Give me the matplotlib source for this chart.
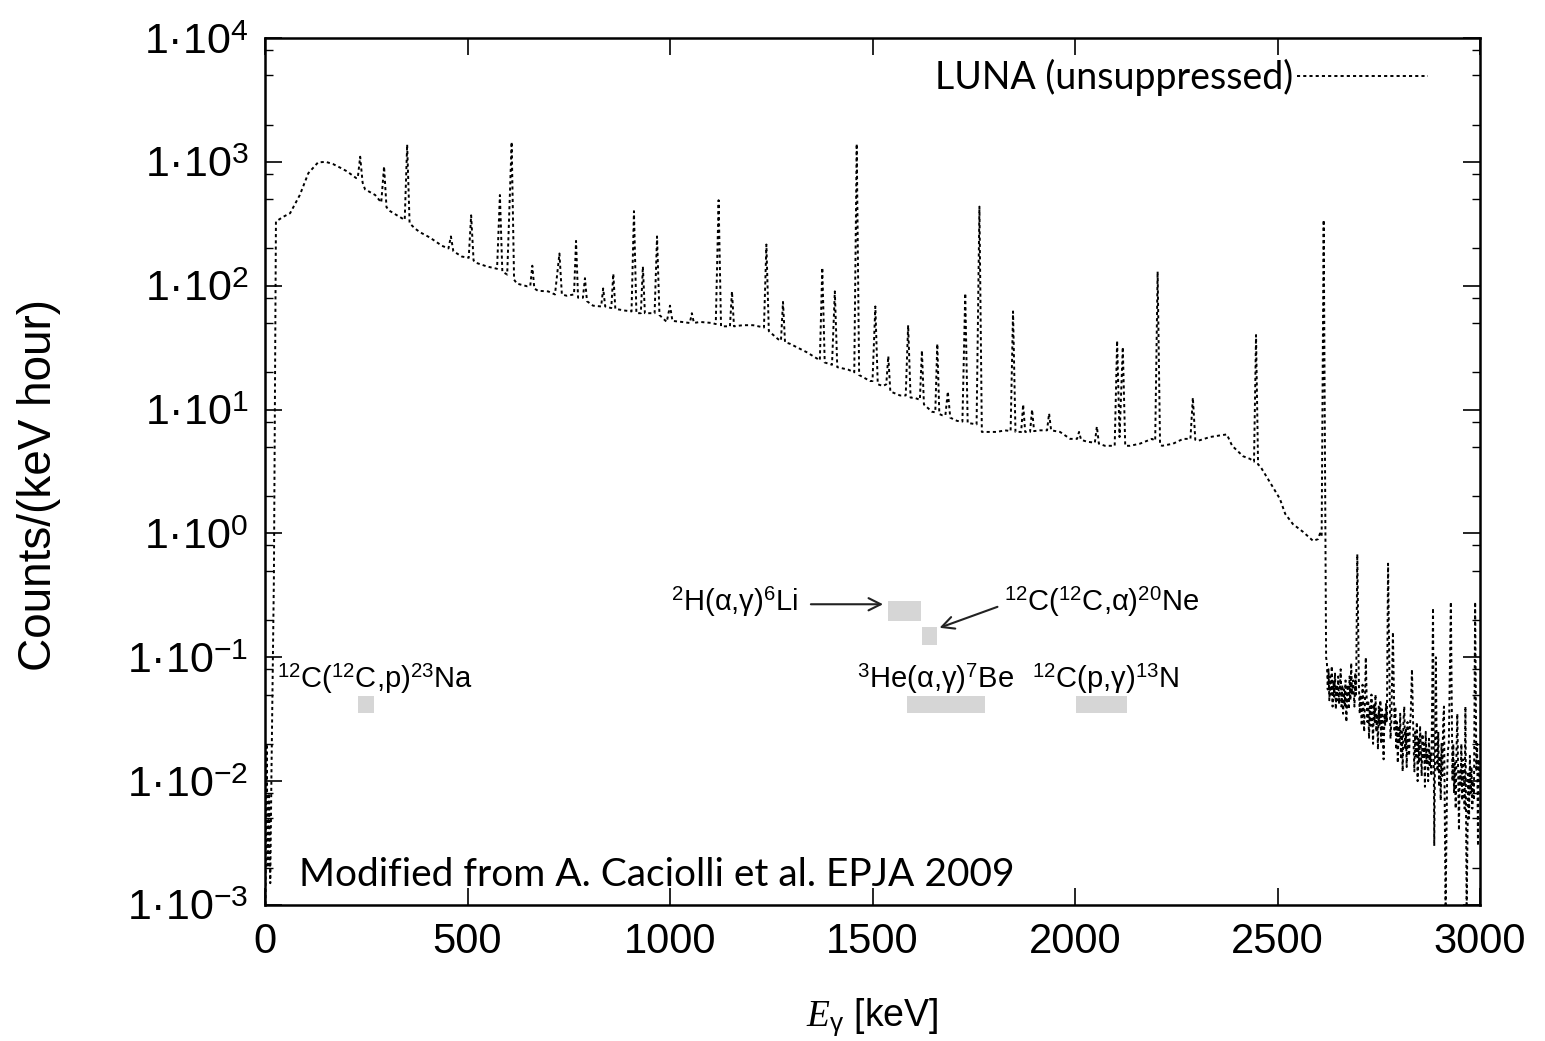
import math
import matplotlib
matplotlib.use("Agg")
import matplotlib.pyplot as plt
from matplotlib.patches import Rectangle
from matplotlib.ticker import FixedLocator, FuncFormatter, NullFormatter

plt.rcParams['font.family'] = ['Liberation Sans', 'DejaVu Sans']
plt.rcParams['mathtext.fontset'] = 'custom'
plt.rcParams['mathtext.rm'] = 'Liberation Sans'
plt.rcParams['mathtext.it'] = 'Liberation Serif:italic'
plt.rcParams['mathtext.bf'] = 'Liberation Sans:bold'

# ---- spectrum (E in keV, counts/(keV hour)) ----
energy = [1, 4, 7, 10, 13, 16, 22, 27, 45, 62, 86, 107, 131, 150, 168, 185, 202,
          225, 229, 235, 241, 247, 272, 287, 294, 300, 309, 326, 345, 351, 357,
          370, 383, 407, 437, 453, 459, 465, 486, 503, 509, 515, 519, 548, 573,
          580, 586, 598, 609, 615, 622, 647, 655, 660, 665, 674, 699, 716, 727,
          733, 745, 763, 768, 773, 785, 790, 795, 810, 830, 835, 840, 855, 860,
          865, 889, 905, 911, 917, 928, 933, 938, 962, 968, 974, 992, 1000, 1006,
          1029, 1049, 1054, 1059, 1074, 1104, 1113, 1120, 1126, 1148, 1153, 1158,
          1180, 1205, 1232, 1238, 1244, 1267, 1274, 1279, 1284, 1296, 1338, 1370,
          1376, 1382, 1400, 1407, 1413, 1440, 1455, 1461, 1467, 1494, 1500, 1507,
          1513, 1526, 1534, 1539, 1544, 1568, 1582, 1588, 1594, 1605, 1617, 1622,
          1627, 1647, 1655, 1660, 1665, 1672, 1680, 1686, 1692, 1709, 1722, 1729,
          1735, 1746, 1757, 1764, 1770, 1773, 1807, 1827, 1841, 1847, 1853, 1867,
          1872, 1877, 1889, 1894, 1899, 1914, 1931, 1936, 1941, 1963, 1988, 2005,
          2010, 2015, 2030, 2049, 2054, 2059, 2074, 2098, 2104, 2110, 2118, 2124,
          2136, 2160, 2190, 2198, 2204, 2210, 2215, 2242, 2267, 2285, 2291, 2297,
          2304, 2333, 2360, 2375, 2388, 2415, 2432, 2442, 2447, 2452, 2457, 2481,
          2506, 2519, 2538, 2563, 2588, 2600, 2605, 2609, 2614, 2620,
          2622, 2624, 2626, 2628, 2630, 2632, 2634, 2636, 2638, 2640, 2642, 2644,
          2646, 2648, 2650, 2652, 2654, 2656, 2658, 2660, 2662, 2664, 2666, 2668,
          2670, 2672, 2674, 2676, 2678, 2680, 2682, 2684, 2687, 2690, 2692, 2694,
          2697, 2701, 2703, 2705, 2708, 2710, 2712, 2714, 2716, 2718, 2720, 2722,
          2724, 2726, 2728, 2730, 2732, 2734, 2736, 2738, 2740, 2742, 2744, 2746,
          2748, 2750, 2752, 2754, 2756, 2758, 2760, 2762, 2764, 2766, 2768, 2770,
          2773, 2777, 2779, 2781, 2785, 2789, 2791, 2793, 2795, 2797, 2799, 2801,
          2803, 2805, 2807, 2809, 2811, 2813, 2815, 2817, 2819, 2821, 2823, 2825,
          2827, 2829, 2832, 2836, 2838, 2840, 2842, 2844, 2846, 2848, 2850, 2852,
          2854, 2856, 2858, 2860, 2862, 2864, 2866, 2868, 2870, 2872, 2874, 2876,
          2878, 2880, 2884, 2887, 2891, 2893, 2895, 2897, 2899, 2901, 2903, 2905,
          2907, 2909, 2911, 2915, 2919, 2921, 2923, 2928, 2932, 2934, 2936, 2938,
          2940, 2942, 2944, 2948, 2950, 2952, 2954, 2956, 2958, 2960, 2962, 2964,
          2967, 2971, 2973, 2975, 2977, 2979, 2981, 2983, 2985, 2988, 2991, 2993,
          2995, 2997, 2999]
counts = [0.0009, 0.02, 0.002, 0.008, 0.0015, 0.012, 0.45, 330, 360, 385, 540, 810, 990, 1000, 960, 900, 840,
          740, 740, 1100, 680, 600, 540, 470, 920, 430, 400, 370, 340, 1380, 320,
          290, 270, 245, 210, 200, 250, 190, 172, 168, 370, 160, 154, 143, 137,
          540, 130, 123, 1450, 112, 104, 99, 100, 145, 95, 91, 90, 85, 182,
          85, 83, 85, 230, 80, 80, 115, 75, 69, 68, 95, 68, 66, 125,
          65, 63, 62, 400, 60, 60, 143, 60, 60, 250, 58, 51, 69, 52,
          51, 50, 60, 50, 51, 50, 49, 490, 47, 47, 90, 47,
          48, 48, 46, 215, 43, 37, 36, 74, 35, 34, 29, 25,
          140, 24, 23, 90, 22, 21, 20, 1400, 19, 17, 17, 68,
          16, 15.5, 16, 27, 14, 13, 13, 48, 12.5, 12.4, 12, 30,
          11, 9.6, 9.5, 34, 9.2, 9, 9, 14, 8.6, 8.1, 8, 87,
          7.8, 7.7, 7.6, 435, 6.6, 6.6, 6.6, 6.8, 6.7, 62, 6.6, 6.6,
          11, 6.6, 6.6, 10, 6.7, 6.8, 6.8, 9.3, 6.8, 6.6, 5.8, 5.8,
          6.6, 5.7, 5.5, 5.4, 7.3, 5.3, 5.1, 5.1, 36, 6.0, 32, 5.1,
          5.1, 5.3, 5.8, 5.6, 130, 5.2, 5.1, 5.3, 5.8, 5.8, 12.5, 5.7,
          5.6, 6.0, 6.2, 6.3, 5.1, 4.2, 4.0, 3.8, 40, 3.6, 3.5, 2.6,
          1.9, 1.44, 1.19, 1.03, 0.87, 0.9, 1.0, 0.95, 340, 0.1,
          0.09, 0.055, 0.08, 0.045, 0.07, 0.05, 0.085, 0.04, 0.065, 0.048, 0.075, 0.038,
          0.06, 0.045, 0.07, 0.042, 0.055, 0.08, 0.04, 0.06, 0.035, 0.055, 0.04, 0.065,
          0.03, 0.05, 0.06, 0.038, 0.07, 0.045, 0.09, 0.05, 0.065, 0.04, 0.075, 0.05,
          0.68, 0.06, 0.035, 0.05, 0.028, 0.06, 0.04, 0.025, 0.045, 0.1, 0.05, 0.03,
          0.045, 0.022, 0.04, 0.028, 0.05, 0.032, 0.02, 0.042, 0.03, 0.05, 0.025, 0.035,
          0.018, 0.04, 0.028, 0.045, 0.02, 0.038, 0.025, 0.015, 0.035, 0.028, 0.042, 0.03,
          0.57, 0.05, 0.022, 0.03, 0.16, 0.025, 0.04, 0.018, 0.03, 0.014, 0.028, 0.02,
          0.035, 0.015, 0.025, 0.012, 0.03, 0.04, 0.018, 0.026, 0.013, 0.03, 0.02, 0.016,
          0.028, 0.035, 0.08, 0.02, 0.012, 0.025, 0.016, 0.03, 0.01, 0.022, 0.014, 0.028,
          0.018, 0.011, 0.024, 0.015, 0.02, 0.009, 0.025, 0.014, 0.018, 0.01, 0.022, 0.013,
          0.017, 0.011, 0.25, 0.003, 0.1, 0.02, 0.012, 0.025, 0.009, 0.016, 0.007, 0.02,
          0.011, 0.03, 0.04, 0.0009, 0.012, 0.018, 0.02, 0.28, 0.01, 0.02, 0.008, 0.014,
          0.006, 0.018, 0.035, 0.004, 0.012, 0.009, 0.02, 0.007, 0.015, 0.01, 0.006, 0.04,
          0.0009, 0.012, 0.005, 0.016, 0.008, 0.013, 0.006, 0.01, 0.007, 0.28, 0.012, 0.02,
          0.003, 0.015, 0.01]

# ---- reaction regions (E range keV, y range) ----
box_e0 = [230, 1538, 1622, 1585, 2002]
box_e1 = [269, 1620, 1659, 1778, 2128]
box_y0 = [0.0352, 0.195, 0.125, 0.0352, 0.0352]
box_y1 = [0.0484, 0.284, 0.175, 0.0484, 0.0484]

y_ticks = [1e-3, 1e-2, 1e-1, 1e0, 1e1, 1e2, 1e3, 1e4]
y_minor = [m * 10.0 ** k for k in range(-3, 4) for m in (2, 5, 8)]
x_ticks = [0, 500, 1000, 1500, 2000, 2500, 3000]

fig = plt.figure(figsize=(15.45, 10.41), dpi=100)
ax = fig.add_axes([265/1545, 1-905/1041, (1480-265)/1545, (905-38)/1041])

ax.plot(energy, counts, color='black', lw=1.4, ls=(0, (1.6, 1.6)),
        label='LUNA (unsuppressed)')

for e0, e1, y0, y1 in zip(box_e0, box_e1, box_y0, box_y1):
    ax.add_patch(Rectangle((e0, y0), e1 - e0, y1 - y0, facecolor='#d6d6d6',
                           edgecolor='none', zorder=1))

ax.set_yscale('log')
ax.set_xlim(0, 3000)
ax.set_ylim(1e-3, 1e4)

ax.xaxis.set_major_locator(FixedLocator(x_ticks))
ax.yaxis.set_major_locator(FixedLocator(y_ticks))
ax.yaxis.set_minor_locator(FixedLocator(y_minor))
ax.yaxis.set_minor_formatter(NullFormatter())
ax.yaxis.set_major_formatter(FuncFormatter(
    lambda v, p: '1·10$^{%d}$' % round(math.log10(v))))

ax.tick_params(which='both', direction='in', top=True, right=True)
ax.tick_params(which='major', length=12, width=1.2, pad=12)
ax.tick_params(axis='x', which='major', labelsize=30)
ax.tick_params(axis='y', which='major', labelsize=31)
ax.tick_params(which='minor', length=6, width=1.0)
for s in ax.spines.values():
    s.set_linewidth(1.8)

ax.set_ylabel('Counts/(keV hour)', fontsize=33)
ax.yaxis.set_label_coords(-0.168, 0.484)
ax.set_xlabel(r'$E_{\mathrm{\gamma}}$ [keV]', fontsize=27)
ax.xaxis.set_label_coords(0.5, -0.105)

afs = 21
ax.text(30, 0.057, r'$^{12}$C($^{12}$C,p)$^{23}$Na', fontsize=afs, va='baseline')
ax.text(1462, 0.057, r'$^{3}$He(α,γ)$^{7}$Be', fontsize=afs, va='baseline')
ax.text(1894, 0.057, r'$^{12}$C(p,γ)$^{13}$N', fontsize=afs, va='baseline')
ax.text(1003, 0.236, r'$^{2}$H(α,γ)$^{6}$Li', fontsize=afs, va='baseline')
ax.text(1825, 0.236, r'$^{12}$C($^{12}$C,α)$^{20}$Ne', fontsize=afs, va='baseline')

ax.annotate('', xy=(1533, 0.268), xytext=(1341, 0.268),
            arrowprops=dict(arrowstyle='->', color='#222222', lw=1.5,
                            mutation_scale=22))
ax.annotate('', xy=(1659, 0.17), xytext=(1815, 0.26),
            arrowprops=dict(arrowstyle='->', color='#222222', lw=1.5,
                            mutation_scale=22))

ax.text(0.028, 0.022, 'Modified from A. Caciolli et al. EPJA 2009',
        transform=ax.transAxes, fontsize=28, family=['Lato', 'DejaVu Sans'],
        va='baseline')

leg = ax.legend(loc='upper right', bbox_to_anchor=(0.985, 1.015), frameon=False,
                markerfirst=False, handlelength=3.5, handletextpad=0.1,
                prop={'family': ['Lato', 'DejaVu Sans'], 'size': 27})

fig.savefig('out.png', dpi=100)
